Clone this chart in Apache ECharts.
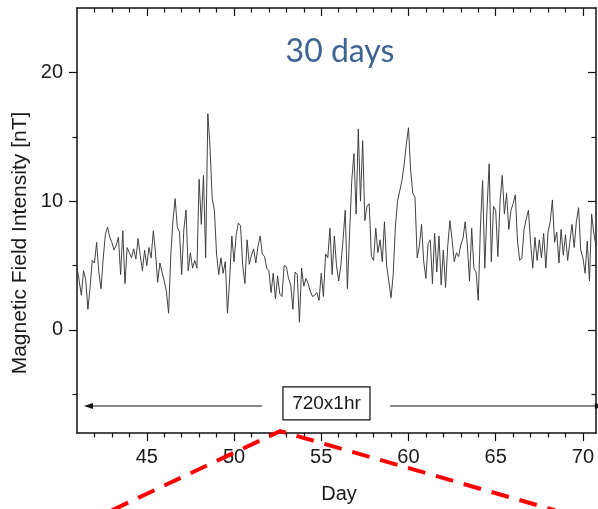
<!DOCTYPE html>
<html>
<head>
<meta charset="utf-8">
<script src="https://cdn.jsdelivr.net/npm/echarts@6/dist/echarts.min.js"></script>
<style>
  html, body { margin: 0; padding: 0; background: #ffffff; }
  #chart { width: 598px; height: 509px; }
</style>
</head>
<body>
<div id="chart"></div>
<script>
// Magnetic field intensity [nT], sampled every 3 hours from day 41
const startDay = 41;
const stepHours = 3;

const fieldDays41to45 = [
  4.9, 3.8, 2.7, 4.6, 3.9, 1.6, 3.3, 5.4,
  5.2, 6.8, 4.5, 3.2, 5.5, 7.4, 8.0, 7.2,
  6.8, 6.2, 6.6, 7.2, 4.3, 7.7, 3.6, 6.4,
  6.0, 5.6, 6.3, 5.5, 7.1, 5.8, 4.6, 6.2,
  5.0, 6.4, 5.6, 7.7, 6.0, 3.7, 5.2, 4.5
];
const fieldDays46to50 = [
  3.8, 3.0, 1.3, 5.8, 8.5, 10.2, 8.0, 7.6,
  4.3, 7.8, 9.3, 4.6, 6.0, 4.8, 5.4, 4.8,
  11.7, 8.2, 12.0, 5.6, 16.8, 14.2, 10.2, 9.3,
  5.9, 4.3, 5.6, 4.4, 5.3, 1.3, 3.9, 7.3,
  5.3, 7.4, 8.3, 8.1, 5.0, 3.6, 7.0, 5.1
];
const fieldDays51to55 = [
  5.8, 6.3, 5.2, 6.5, 7.3, 5.9, 5.7, 4.8,
  4.6, 2.9, 4.4, 2.4, 4.2, 2.8, 2.6, 5.0,
  4.9, 4.0, 3.5, 1.6, 4.5, 4.3, 0.6, 4.8,
  3.4, 4.0, 3.6, 3.0, 2.6, 2.7, 2.9, 2.3,
  4.4, 2.6, 5.9, 5.6, 7.9, 4.3, 7.3, 5.0
];
const fieldDays56to60 = [
  3.8, 5.0, 7.0, 9.3, 3.2, 7.5, 11.6, 13.7,
  9.0, 15.6, 10.0, 14.7, 8.5, 9.6, 9.8, 5.7,
  5.4, 7.9, 6.0, 7.0, 5.3, 8.4, 5.0, 3.8,
  2.5, 4.3, 8.0, 10.0, 10.8, 11.6, 12.8, 14.4,
  15.7, 12.4, 10.6, 10.3, 5.6, 6.5, 8.2, 5.3
];
const fieldDays61to65 = [
  4.0, 6.7, 7.0, 3.6, 7.5, 4.5, 7.3, 3.5,
  6.2, 3.3, 6.5, 8.5, 7.0, 5.3, 6.0, 5.7,
  6.6, 7.1, 8.4, 6.6, 3.8, 7.9, 4.8, 4.5,
  2.3, 8.0, 11.6, 4.8, 9.3, 12.9, 5.3, 9.6,
  9.3, 5.7, 10.0, 12.0, 9.0, 10.6, 7.8, 9.3
];
const fieldDays66to70 = [
  9.8, 10.5, 6.9, 5.4, 5.6, 7.8, 8.6, 9.3,
  6.8, 4.8, 7.2, 5.4, 7.0, 5.6, 7.5, 4.8,
  7.6, 8.4, 10.1, 6.8, 7.6, 5.2, 7.8, 5.8,
  7.4, 5.4, 6.8, 8.2, 6.4, 8.4, 9.5, 6.2,
  5.6, 4.4, 6.9, 3.8, 9.0, 7.5, 6.5
];

// Axis ranges and tick positions
const xMin = 41, xMax = 70.75;
const yMin = -8, yMax = 25;
const xMajorTicks = [45, 50, 55, 60, 65, 70];
const xMinorTicks = [42, 43, 44, 46, 47, 48, 49, 51, 52, 53, 54, 56, 57, 58, 59, 61, 62, 63, 64, 66, 67, 68, 69];
const yMajorTicks = [0, 10, 20];
const yMinorTicks = [-5, 5, 15];

// Annotation: span of the 720 hourly samples
const spanLabel = '720x1hr';
const titleText = '30 days';

const field = [].concat(fieldDays41to45, fieldDays46to50, fieldDays51to55,
                        fieldDays56to60, fieldDays61to65, fieldDays66to70);
const points = field.map((v, i) => [startDay + i * stepHours / 24, v]);

const FONT = 'Liberation Sans';
const AXIS_COLOR = '#111111';

function xAxisDef(position, ticks, len, inside, showLine, showLabels) {
  return {
    type: 'value', position: position, min: xMin, max: xMax,
    splitLine: { show: false },
    axisLine: { show: showLine, onZero: false, lineStyle: { color: AXIS_COLOR, width: 1.5 } },
    axisTick: { show: true, inside: inside, length: len, customValues: ticks,
                lineStyle: { color: AXIS_COLOR, width: 1.2 } },
    axisLabel: showLabels
      ? { show: true, customValues: ticks, margin: 14, fontSize: 20, color: '#1a1a1a', fontFamily: FONT }
      : { show: false }
  };
}
function yAxisDef(position, ticks, len, inside, showLine, showLabels) {
  return {
    type: 'value', position: position, min: yMin, max: yMax,
    splitLine: { show: false },
    axisLine: { show: showLine, onZero: false, lineStyle: { color: AXIS_COLOR, width: 1.5 } },
    axisTick: { show: true, inside: inside, length: len, customValues: ticks,
                lineStyle: { color: AXIS_COLOR, width: 1.2 } },
    axisLabel: showLabels
      ? { show: true, customValues: ticks, margin: 14, fontSize: 20, color: '#1a1a1a', fontFamily: FONT }
      : { show: false }
  };
}

const chart = echarts.init(document.getElementById('chart'), null, { renderer: 'canvas' });

chart.setOption({
  animation: false,
  backgroundColor: '#ffffff',
  textStyle: { fontFamily: FONT },
  grid: { left: 77, right: 2, top: 8, bottom: 76, containLabel: false },
  xAxis: [
    xAxisDef('bottom', xMajorTicks, 8, false, true, true),
    xAxisDef('bottom', xMinorTicks, 4.5, false, false, false),
    xAxisDef('top', xMajorTicks, 8, true, true, false),
    xAxisDef('top', xMinorTicks, 4.5, true, false, false)
  ],
  yAxis: [
    yAxisDef('left', yMajorTicks, 8, false, true, true),
    yAxisDef('left', yMinorTicks, 4.5, false, false, false),
    yAxisDef('right', yMajorTicks, 8, true, true, false),
    yAxisDef('right', yMinorTicks, 4.5, true, false, false)
  ],
  series: [{
    type: 'line',
    xAxisIndex: 0, yAxisIndex: 0,
    data: points,
    symbol: 'none',
    lineStyle: { color: '#383838', width: 0.95 },
    clip: true
  }]
});

// Annotation geometry in data space
const arrowLevel = -5.9;
const leftTipDay = 41.4, leftTailDay = 51.6;
const rightTailDay = 58.95, rightTipDay = 71.2;
const labelDay = 55.3;
const calloutApex = [52.64, -7.85];
const calloutLeft = [43.0, -14.0];
const calloutRight = [68.4, -14.0];

const px = (d, v) => chart.convertToPixel({ xAxisIndex: 0, yAxisIndex: 0 }, [d, v]);

const lt = px(leftTipDay, arrowLevel), ltl = px(leftTailDay, arrowLevel);
const rtl = px(rightTailDay, arrowLevel), rt = px(rightTipDay, arrowLevel);
const lab = px(labelDay, arrowLevel);
const ca = px(calloutApex[0], calloutApex[1]);
const cl = px(calloutLeft[0], calloutLeft[1]);
const cr = px(calloutRight[0], calloutRight[1]);

const lineStyle = { stroke: '#111111', lineWidth: 1.1 };
chart.setOption({
  graphic: [
    // y axis title
    { type: 'text', x: 20, y: 243, rotation: Math.PI / 2,
      style: { text: 'Magnetic Field Intensity [nT]', fontSize: 21, fontFamily: FONT,
               fill: '#1a1a1a', align: 'center', verticalAlign: 'middle' } },
    // x axis title
    { type: 'text', x: 339, y: 494,
      style: { text: 'Day', fontSize: 20, fontFamily: FONT, fill: '#1a1a1a',
               align: 'center', verticalAlign: 'middle' } },
    // panel title
    { type: 'text', x: 340, y: 52,
      style: { text: titleText, fontSize: 32, fontFamily: 'Lato', fill: '#3d6393',
               align: 'center', verticalAlign: 'middle' } },
    // span arrows
    { type: 'line', shape: { x1: lt[0] + 2, y1: lt[1], x2: ltl[0], y2: ltl[1] }, style: lineStyle },
    { type: 'polygon', shape: { points: [[lt[0], lt[1]], [lt[0] + 9, lt[1] - 3], [lt[0] + 9, lt[1] + 3]] },
      style: { fill: '#111111' } },
    { type: 'line', shape: { x1: rtl[0], y1: rtl[1], x2: rt[0] - 2, y2: rt[1] }, style: lineStyle },
    { type: 'polygon', shape: { points: [[rt[0], rt[1]], [rt[0] - 9, rt[1] - 3], [rt[0] - 9, rt[1] + 3]] },
      style: { fill: '#111111' } },
    // span label box
    { type: 'rect', shape: { x: lab[0] - 43.5, y: lab[1] - 19, width: 87, height: 33 },
      style: { fill: '#ffffff', stroke: '#111111', lineWidth: 1.2 } },
    { type: 'text', x: lab[0], y: lab[1] - 2.5,
      style: { text: spanLabel, fontSize: 19, fontFamily: FONT, fill: '#1a1a1a',
               align: 'center', verticalAlign: 'middle' } },
    // red dashed zoom callout
    { type: 'polyline', shape: { points: [[cl[0], cl[1]], [ca[0], ca[1]], [cr[0], cr[1]]] },
      style: { stroke: '#ff0000', lineWidth: 4, lineDash: [18, 11], fill: null }, z: 100 }
  ]
});
</script>
</body>
</html>
